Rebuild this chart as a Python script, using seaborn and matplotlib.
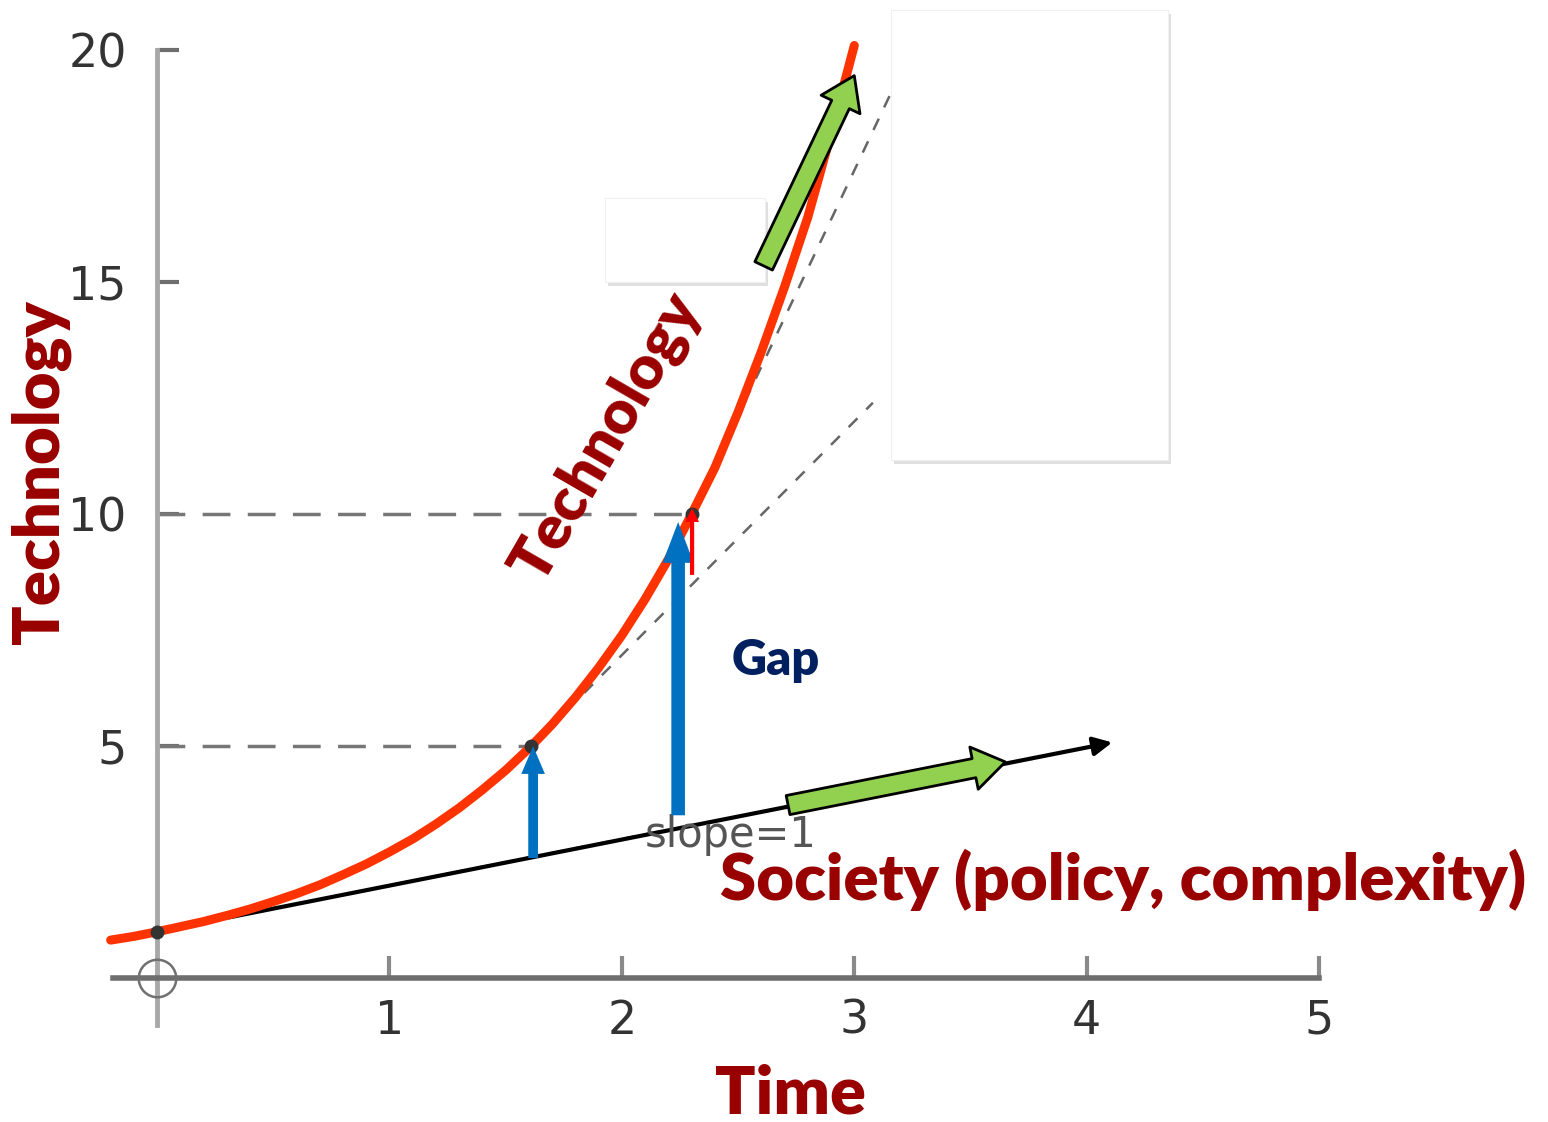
import numpy as np
import pandas as pd
import matplotlib
matplotlib.use("Agg")
from matplotlib import pyplot as plt
from matplotlib.patches import Rectangle
import matplotlib.patheffects as pe
import seaborn as sns

sns.set_theme(style="white")
plt.rcParams['font.family'] = ['Lato', 'DejaVu Sans']

# technology curve
time_pts = [-0.2, -0.1, 0.0, 0.1, 0.2, 0.3, 0.4, 0.5, 0.6, 0.7, 0.8, 0.9, 1.0,
            1.1, 1.2, 1.3, 1.4, 1.5, 1.61, 1.7, 1.8, 1.9, 2.0, 2.1, 2.2, 2.3,
            2.4, 2.5, 2.6, 2.7, 2.8, 2.9, 3.0]
tech_pts = [0.82, 0.90, 1.0, 1.11, 1.22, 1.35, 1.49, 1.65, 1.82, 2.01, 2.23,
            2.46, 2.72, 3.0, 3.32, 3.67, 4.06, 4.48, 5.0, 5.47, 6.05, 6.69,
            7.39, 8.17, 9.03, 10.0, 11.0, 12.2, 13.5, 14.9, 16.4, 18.2, 20.1]

# marked points and their tangents
mark_t = [0.0, 1.61, 2.30]
mark_v = [1.0, 5.0, 10.0]
tan5_t, tan5_v = [1.61, 3.08], [5.0, 12.4]
tan10_t, tan10_v = [2.30, 3.16], [10.0, 19.1]
slope1_t, slope1_v = [0.0, 2.2], [1.0, 3.2]

# society line
soc_t = [0.31, 4.11]
soc_v = [1.31, 5.08]

x_ticks = [1, 2, 3, 4, 5]
y_ticks = [5, 10, 15, 20]

dark_red = '#990000'
green = '#92d050'
blue = '#0070c0'

fig = plt.figure(figsize=(15.48, 11.22), dpi=100)
ax = fig.add_axes([0, 0, 1, 1])
ax.set_xlim(-0.676, 5.985)
ax.set_ylim(-3.10, 21.08)
ax.set_facecolor('white')

# axes through the origin
for side in ['top', 'right']:
    ax.spines[side].set_visible(False)
ax.spines['left'].set_position(('data', 0))
ax.spines['bottom'].set_position(('data', 0))
ax.spines['left'].set_bounds(-1.0, 20)
ax.spines['bottom'].set_bounds(-0.19, 5)
ax.spines['left'].set_color('#a8a8a8')
ax.spines['bottom'].set_color('#6e6e6e')
ax.spines['left'].set_linewidth(3.5)
ax.spines['bottom'].set_linewidth(4)
ax.set_xticks(x_ticks)
ax.set_yticks(y_ticks)
tick_font = {'family': ['DejaVu Sans'], 'size': 33}
ax.set_xticklabels([str(v) for v in x_ticks], fontdict=tick_font, color='#333333')
ax.set_yticklabels([str(v) for v in y_ticks], fontdict=tick_font, color='#333333')
ax.tick_params(axis='x', bottom=True, direction='in', length=16, width=3,
               color='#8a8a8a', pad=15)
ax.tick_params(axis='y', left=True, direction='in', length=16, width=3,
               color='#6e6e6e', pad=22)

# origin marker
ax.plot([0], [0], marker='o', markersize=27, mfc='none', mec='#707070', mew=1.8,
        zorder=4, clip_on=False)

# guide lines to the marked points
sns.lineplot(x=[0, mark_t[1]], y=[mark_v[1]] * 2, ax=ax, color='#777777',
             lw=2.5, dashes=(8, 5), zorder=2)
sns.lineplot(x=[0, mark_t[2]], y=[mark_v[2]] * 2, ax=ax, color='#777777',
             lw=2.5, dashes=(8, 5), zorder=2)
for tt, vv in [(tan5_t, tan5_v), (tan10_t, tan10_v), (slope1_t, slope1_v)]:
    sns.lineplot(x=tt, y=vv, ax=ax, color='#666666', lw=1.8, dashes=(5, 5), zorder=2)

# society line
ax.annotate('', xy=(soc_t[1], soc_v[1]), xytext=(soc_t[0], soc_v[0]),
            arrowprops=dict(arrowstyle='-|>', color='black', lw=3,
                            mutation_scale=28, shrinkA=0, shrinkB=0), zorder=3)

# technology curve
curve = pd.DataFrame({'time': time_pts, 'tech': tech_pts})
sns.lineplot(data=curve, x='time', y='tech', ax=ax, color='#ff3300', lw=6.5,
             zorder=4, clip_on=False)
ax.plot(mark_t, mark_v, 'o', color='#333333', markersize=9, zorder=5)

# white boxes with shadow
shadow = [pe.withSimplePatchShadow(offset=(2, -3), shadow_rgbFace='#999999', alpha=0.3),
          pe.Normal()]
for x0, y0, w, h in [(1.928, 15.0, 0.688, 1.81), (3.158, 11.16, 1.192, 9.70)]:
    box = Rectangle((x0, y0), w, h, facecolor='white', edgecolor='#f0f0f0',
                    lw=0.8, zorder=6)
    box.set_path_effects(shadow)
    ax.add_patch(box)

# green trend arrows
green_style = 'simple,head_width=1.55,head_length=1.15,tail_width=0.7'
ax.annotate('', xy=(3.0, 19.45), xytext=(2.61, 15.35),
            arrowprops=dict(arrowstyle=green_style, fc=green, ec='black', lw=2,
                            mutation_scale=20, shrinkA=0, shrinkB=0), zorder=7)
ax.annotate('', xy=(3.65, 4.66), xytext=(2.715, 3.73),
            arrowprops=dict(arrowstyle=green_style, fc=green, ec='black', lw=2,
                            mutation_scale=20, shrinkA=0, shrinkB=0), zorder=7)

# gap arrows
ax.annotate('', xy=(1.618, 5.0), xytext=(1.618, 2.59),
            arrowprops=dict(arrowstyle='simple,head_width=1.7,head_length=2.0,tail_width=0.7',
                            fc=blue, ec=blue, lw=0, mutation_scale=10,
                            shrinkA=0, shrinkB=0), zorder=6)
ax.annotate('', xy=(2.242, 9.83), xytext=(2.242, 3.51),
            arrowprops=dict(arrowstyle='simple,head_width=1.6,head_length=2.1,tail_width=0.7',
                            fc=blue, ec=blue, lw=0, mutation_scale=14,
                            shrinkA=0, shrinkB=0), zorder=6)
ax.annotate('', xy=(2.302, 10.13), xytext=(2.302, 8.69),
            arrowprops=dict(arrowstyle='simple,head_width=1.0,head_length=1.0,tail_width=0.3',
                            fc='red', ec='red', lw=0, mutation_scale=10,
                            shrinkA=0, shrinkB=0), zorder=6)

# labels
bold = dict(fontweight='heavy', color=dark_red)
ax.text(-0.50, 10.9, 'Technology', rotation=90, ha='center', va='center',
        fontsize=47, **bold)
ax.text(1.93, 11.65, 'Technology', rotation=60, ha='center', va='center',
        fontsize=44, rotation_mode='anchor', **bold)
ax.text(2.724, -2.50, 'Time', ha='center', va='center', fontsize=48, **bold)
ax.text(2.42, 2.11, 'Society (policy, complexity)', ha='left', va='center',
        fontsize=47, **bold)
ax.text(2.66, 6.85, 'Gap', ha='center', va='center', fontsize=35,
        fontweight='heavy', color='#002060')
ax.text(2.466, 3.08, 'slope=1', ha='center', va='center', color='#555555',
        fontfamily=['DejaVu Sans'], fontsize=30, zorder=3)

ax.set_xlabel('')
ax.set_ylabel('')
plt.savefig('out.png', dpi=100)
